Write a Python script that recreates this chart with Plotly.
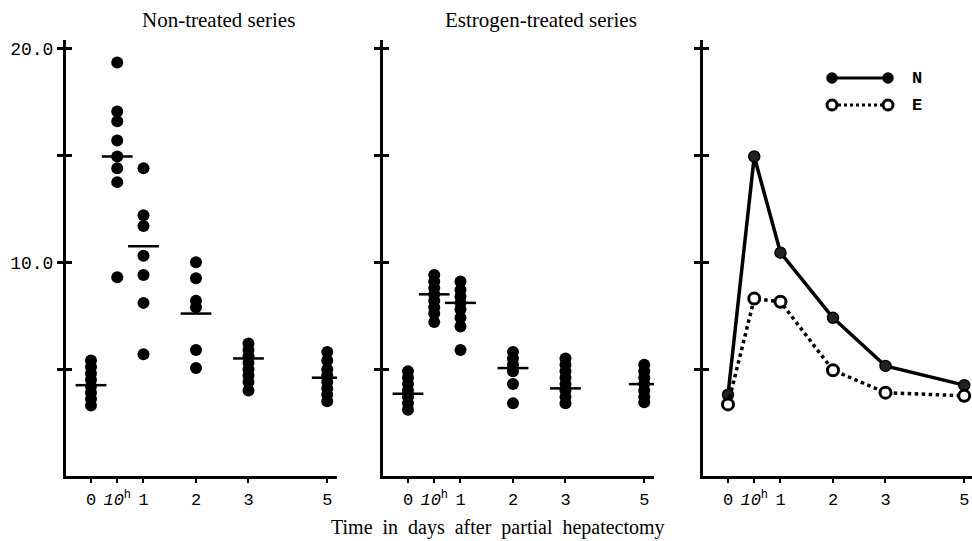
import plotly.graph_objects as go

# ---------------- data ----------------
time_labels = ["0", "<i>10</i><sup>h</sup>", "1", "2", "3", "5"]
# axis slot of each sampling time (the original axis is compressed between 3 and 5 days)
time_slot = [0, 0.5, 1, 2, 3, 4.5]

# Non-treated series: individual values (g) per sampling time
non_treated = [
    [5.4, 5.1, 4.8, 4.5, 4.2, 3.9, 3.6, 3.3],
    [19.35, 17.05, 16.6, 15.7, 14.95, 14.4, 13.75, 9.3],
    [14.4, 12.2, 11.7, 10.3, 9.4, 8.1, 5.7],
    [10.0, 9.25, 8.2, 7.9, 5.9, 5.05],
    [6.2, 5.9, 5.6, 5.3, 5.0, 4.7, 4.4, 4.0],
    [5.8, 5.4, 5.0, 4.7, 4.4, 4.1, 3.8, 3.5],
]
non_treated_mean = [4.25, 14.95, 10.75, 7.6, 5.5, 4.6]

# Estrogen-treated series
estrogen = [
    [4.9, 4.6, 4.3, 4.0, 3.7, 3.4, 3.1],
    [9.4, 9.1, 8.8, 8.5, 8.2, 7.9, 7.6, 7.2],
    [9.1, 8.7, 8.4, 8.1, 7.8, 7.4, 7.0, 5.9],
    [5.8, 5.5, 5.2, 4.9, 4.3, 3.4],
    [5.5, 5.2, 4.9, 4.6, 4.3, 4.0, 3.7, 3.4],
    [5.2, 4.9, 4.6, 4.3, 4.0, 3.7, 3.45],
]
estrogen_mean = [3.85, 8.5, 8.1, 5.05, 4.1, 4.3]

# Right panel: averages
avg_N = [3.8, 14.95, 10.45, 7.4, 5.15, 4.25]
avg_E = [3.35, 8.3, 8.15, 4.95, 3.9, 3.75]

y_ticks = [5, 10, 15, 20]
y_labeled = [10, 20]
y_labels = ["10.0", "20.0"]
y_unlabeled = [5, 15]

# ---------------- figure ----------------
W, H = 972, 541
def px(x):
    return x / W
def py(y):
    return 1 - y / H

fig = go.Figure()

def add_dots(groups, means, xa, ya):
    xs, ys = [], []
    for slot, vals in zip(time_slot, groups):
        xs += [slot] * len(vals)
        ys += vals
    fig.add_trace(go.Scatter(x=xs, y=ys, mode="markers", xaxis=xa, yaxis=ya,
                             marker=dict(size=12, color="black", line=dict(width=0)),
                             showlegend=False, hoverinfo="y"))
    fig.add_trace(go.Scatter(x=time_slot, y=means, mode="markers", xaxis=xa, yaxis=ya,
                             marker=dict(symbol="line-ew", size=22,
                                         line=dict(width=2.5, color="black")),
                             showlegend=False, hoverinfo="y"))

add_dots(non_treated, non_treated_mean, "x", "y")
add_dots(estrogen, estrogen_mean, "x2", "y2")

fig.add_trace(go.Scatter(x=time_slot, y=avg_N, mode="lines+markers", xaxis="x3", yaxis="y3",
                         line=dict(color="black", width=3.5),
                         marker=dict(size=11, color="#222", line=dict(color="black", width=1.5)),
                         name="N", showlegend=False))
fig.add_trace(go.Scatter(x=time_slot, y=avg_E, mode="lines+markers", xaxis="x3", yaxis="y3",
                         line=dict(color="black", width=3.5, dash="dot"),
                         marker=dict(size=11, color="white", line=dict(color="black", width=3)),
                         name="E", showlegend=False))

# invisible helper traces so the overlay axes (inner half of cross ticks) get drawn
for i in range(3):
    sfx = "" if i == 0 else str(i + 1)
    fig.add_trace(go.Scatter(x=[time_slot[0]], y=[y_ticks[0]], mode="markers",
                             xaxis="x" + sfx, yaxis="y" + str(i + 4),
                             marker=dict(opacity=0), showlegend=False, hoverinfo="skip"))

# panel geometry (pixels)
panels = [(66, 337), (383, 654), (703, 972)]
unit = 52.5
x_lo = -0.476
ydom = [py(476), py(40)]
yrange = [0, 20.4]

mono = "Liberation Mono, Courier New, monospace"
tickfont = dict(family=mono, size=17, color="black")

for i, (l, r) in enumerate(panels):
    sfx = "" if i == 0 else str(i + 1)
    x_hi = x_lo + (r - l) / unit
    if i == 0:
        ycfg = dict(tickvals=y_labeled, ticktext=y_labels, showticklabels=True,
                    minor=dict(tickmode="array", tickvals=y_unlabeled, ticks="outside",
                               ticklen=6, tickwidth=2.5, tickcolor="black", showgrid=False))
    else:
        ycfg = dict(tickvals=y_ticks, showticklabels=False)
    fig.update_layout(**{
        "xaxis" + sfx: dict(domain=[px(l), px(r)], range=[x_lo, x_hi], anchor="y" + sfx,
                            tickvals=time_slot, ticktext=time_labels, tickfont=tickfont,
                            ticks="outside", ticklen=4, tickwidth=1.5, tickcolor="black",
                            ticklabelstandoff=2,
                            showline=True, linewidth=3, linecolor="black",
                            showgrid=False, zeroline=False, automargin=False, fixedrange=True),
        "yaxis" + sfx: dict(domain=ydom, range=yrange, anchor="x" + sfx,
                            tickfont=dict(family=mono, size=18, color="black"),
                            ticks="outside", ticklen=6, tickwidth=2.5, tickcolor="black",
                            showline=True, linewidth=3, linecolor="black",
                            showgrid=False, zeroline=False, automargin=False, fixedrange=True,
                            **ycfg),
        # overlay axis to draw the inner half of the cross-shaped ticks
        "yaxis" + str(i + 4): dict(domain=ydom, range=yrange, anchor="x" + sfx,
                                   overlaying="y" + sfx, tickvals=y_ticks,
                                   showticklabels=False, ticks="inside", ticklen=6,
                                   tickwidth=2.5, tickcolor="black", showline=False,
                                   showgrid=False, zeroline=False, fixedrange=True),
    })

serif = "Liberation Serif, Times New Roman, serif"
annotations = [
    dict(text="Non-treated series", x=px(218), y=py(20), font=dict(family=serif, size=21)),
    dict(text="Estrogen-treated series", x=px(541), y=py(20), font=dict(family=serif, size=21)),
    dict(text="Time  in  days  after  partial  hepatectomy", x=px(498), y=py(527),
         font=dict(family=serif, size=20)),
    dict(text="<b>N</b>", x=px(917), y=py(78), font=dict(family=mono, size=17)),
    dict(text="<b>E</b>", x=px(917), y=py(105), font=dict(family=mono, size=17)),
]
for a in annotations:
    a.update(xref="paper", yref="paper", showarrow=False, xanchor="center", yanchor="middle")
    a["font"]["color"] = "black"

# legend key drawn as shapes
shapes = [
    dict(type="line", x0=px(832), x1=px(888), y0=py(78), y1=py(78),
         line=dict(color="black", width=3)),
    dict(type="line", x0=px(832), x1=px(888), y0=py(105), y1=py(105),
         line=dict(color="black", width=3, dash="dot")),
]
r = 5
for cx in (832, 888):
    shapes.append(dict(type="circle", x0=px(cx - r), x1=px(cx + r), y0=py(78 + r), y1=py(78 - r),
                       fillcolor="black", line=dict(color="black", width=1.5)))
    shapes.append(dict(type="circle", x0=px(cx - r), x1=px(cx + r), y0=py(105 + r), y1=py(105 - r),
                       fillcolor="white", line=dict(color="black", width=3)))
for s in shapes:
    s.update(xref="paper", yref="paper")

fig.update_layout(width=W, height=H, margin=dict(l=0, r=0, t=0, b=0),
                  paper_bgcolor="white", plot_bgcolor="white",
                  annotations=annotations, shapes=shapes, showlegend=False)

fig.write_html("out.html")
